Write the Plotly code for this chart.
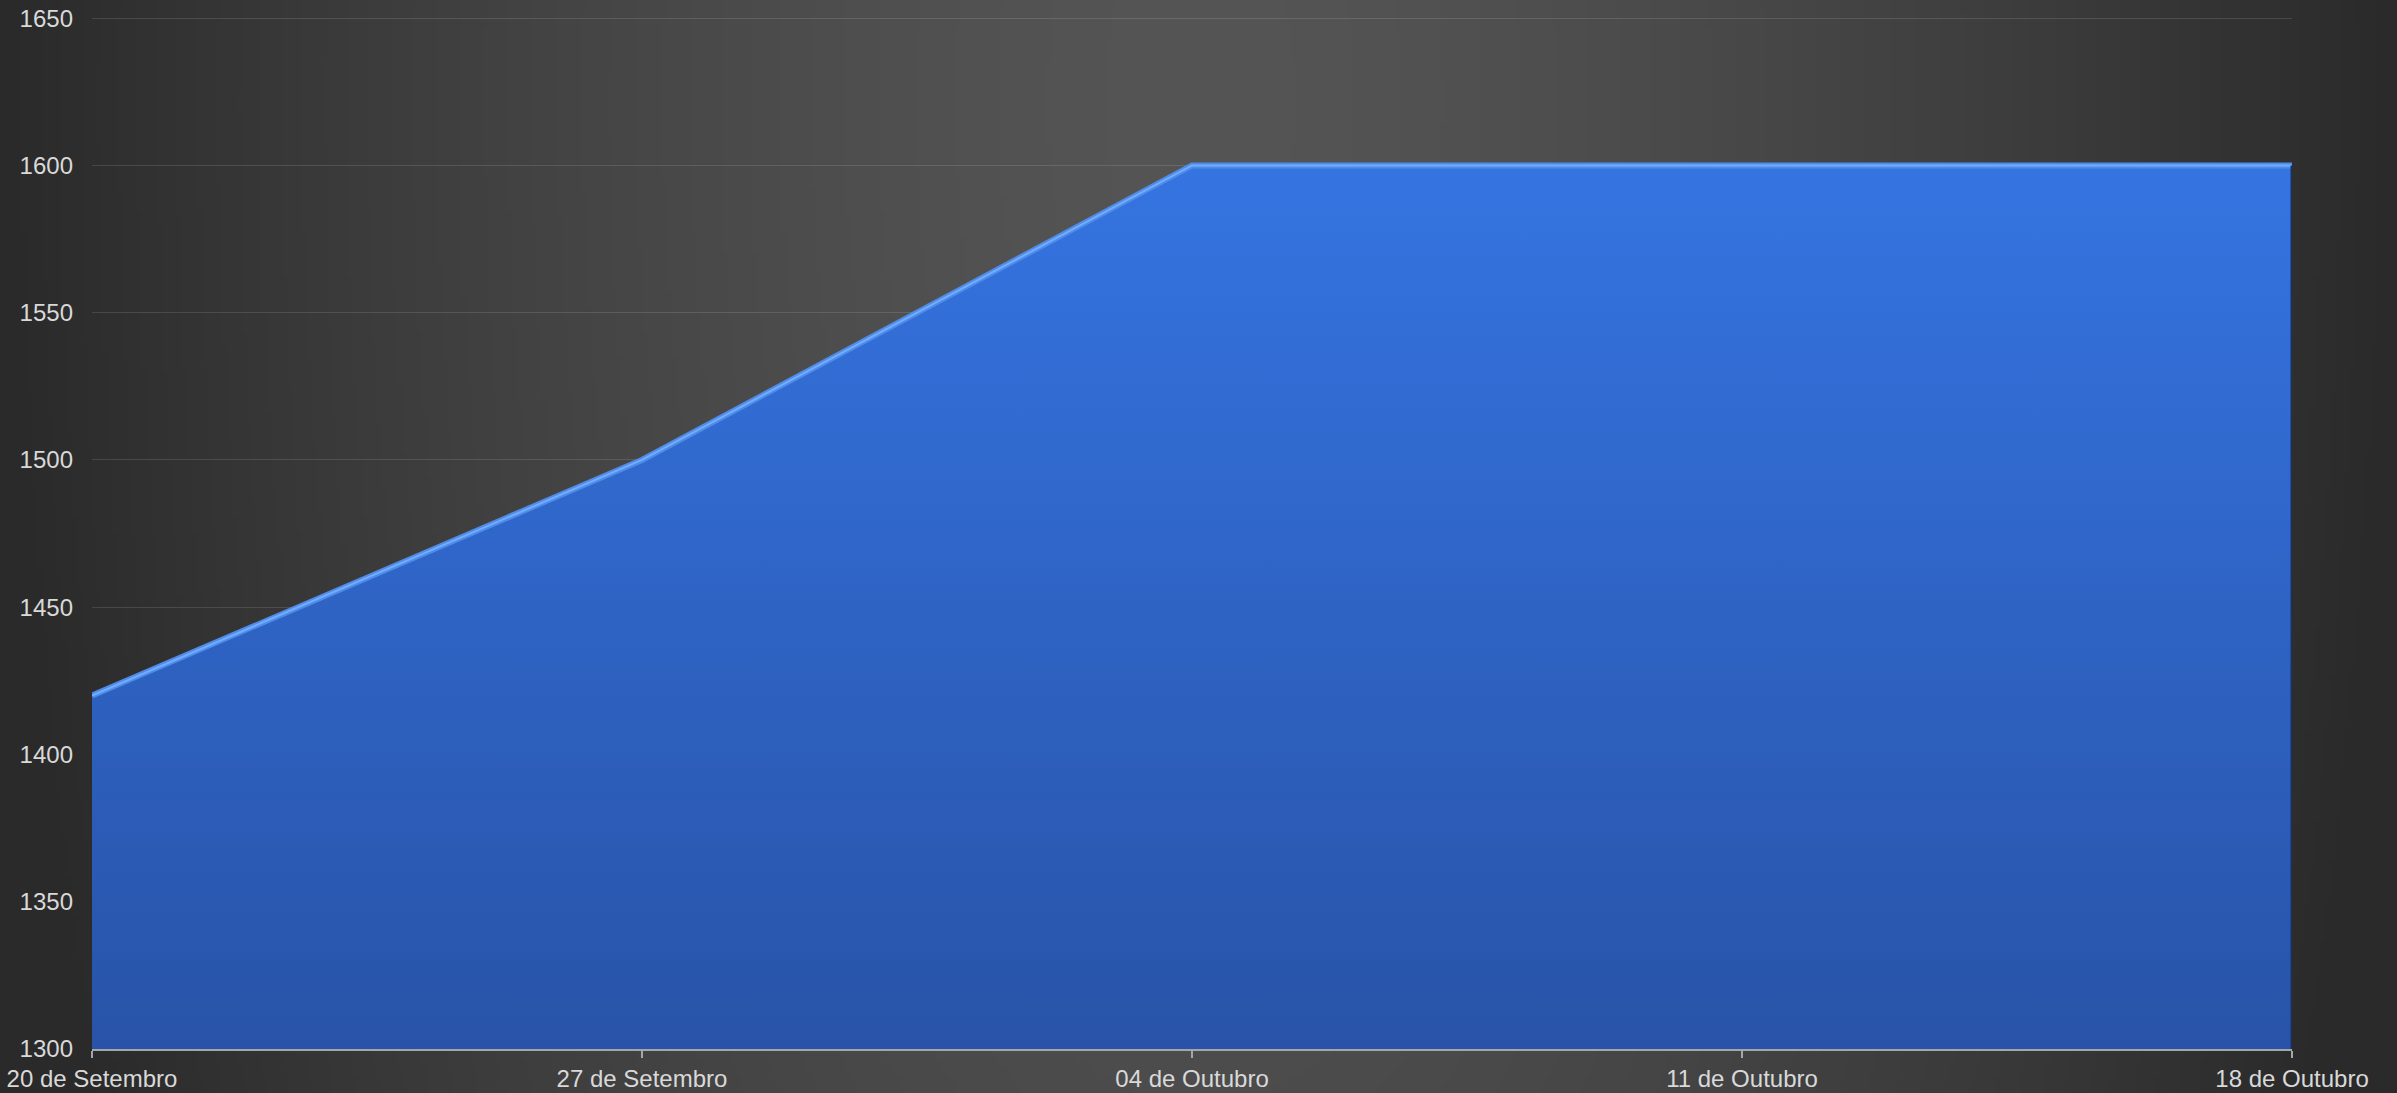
import base64
import struct
import zlib

import numpy as np
import plotly.graph_objects as go

# ---------------- data ----------------
categories = ["20 de Setembro", "27 de Setembro", "04 de Outubro", "11 de Outubro", "18 de Outubro"]
values = [1420, 1500, 1600, 1600, 1600]
y_ticks = [1300, 1350, 1400, 1450, 1500, 1550, 1600, 1650]

# ---------------- figure geometry ----------------
W, H = 2397, 1093
ML, MR, MT, MB = 92, 105, 17, 44
PW, PH = W - ML - MR, H - MT - MB
Y_MIN, Y_MAX = 1300, 1650


def background_png(w, h):
    """Radial dark-grey background, encoded as a PNG data URI."""
    xs = np.linspace(0, W, w)
    ys = np.linspace(0, H, h)
    X, Y = np.meshgrid(xs, ys)
    d = np.sqrt(((X - 1200) / 1200.0) ** 2 + ((Y - 100) / 2860.0) ** 2)
    d = np.clip(d, 0, 1)
    c = 85 - 43 * d ** 1.5
    arr = np.repeat(c[:, :, None], 3, axis=2).astype(np.uint8)
    raw = b"".join(b"\x00" + row.tobytes() for row in arr)

    def chunk(tag, data):
        body = tag + data
        return struct.pack(">I", len(data)) + body + struct.pack(">I", zlib.crc32(body) & 0xFFFFFFFF)

    png = b"\x89PNG\r\n\x1a\n"
    png += chunk(b"IHDR", struct.pack(">IIBBBBB", w, h, 8, 2, 0, 0, 0))
    png += chunk(b"IDAT", zlib.compress(raw, 9))
    png += chunk(b"IEND", b"")
    return "data:image/png;base64," + base64.b64encode(png).decode()


fig = go.Figure()

# main area
fig.add_trace(go.Scatter(
    x=categories, y=values, mode="lines",
    fill="tozeroy",
    fillgradient=dict(type="vertical", start=Y_MIN, stop=max(values),
                      colorscale=[[0, "#2853a8"], [1, "#3574e1"]]),
    line=dict(color="#4f8be9", width=6),
    hoverinfo="skip", showlegend=False,
))

# bright bevel highlight along the top edge
fig.add_trace(go.Scatter(
    x=categories, y=values, mode="lines",
    line=dict(color="#72adff", width=2),
    hoverinfo="skip", showlegend=False,
))

# dark right edge of the area
fig.add_trace(go.Scatter(
    x=[categories[-1], categories[-1]], y=[Y_MIN, values[-1]], mode="lines",
    line=dict(color="#1b3161", width=3),
    hoverinfo="skip", showlegend=False,
))

fig.update_layout(
    width=W, height=H,
    margin=dict(l=ML, r=MR, t=MT, b=MB, autoexpand=False),
    paper_bgcolor="#3a3a3a",
    plot_bgcolor="rgba(0,0,0,0)",
    font=dict(family="Liberation Sans, Arial, sans-serif", size=24, color="#d9d9d9"),
    images=[dict(
        source=background_png(480, 219),
        xref="paper", yref="paper",
        x=-ML / PW, y=1 + MT / PH,
        sizex=W / PW, sizey=H / PH,
        xanchor="left", yanchor="top",
        sizing="stretch", layer="below",
    )],
    xaxis=dict(
        type="category", range=[0, len(categories) - 1],
        showgrid=False, zeroline=False,
        showline=True, linecolor="#a6a6a6", linewidth=2,
        ticks="outside", ticklen=7, tickwidth=2, tickcolor="#a6a6a6",
        tickfont=dict(size=24, color="#d9d9d9"),
        automargin=False,
    ),
    yaxis=dict(
        range=[Y_MIN, Y_MAX + 0.4], tickvals=y_ticks,
        showgrid=True, gridcolor="rgba(255,255,255,0.12)", gridwidth=1,
        zeroline=False, showline=False, ticks="",
        ticklabelstandoff=18,
        tickfont=dict(size=24, color="#d9d9d9"),
        automargin=False,
    ),
)

fig.write_html(
    "out.html",
    config={"displayModeBar": False},
    post_script="document.body.style.margin='0';document.body.style.padding='0';"
                "document.body.style.overflow='hidden';",
)
